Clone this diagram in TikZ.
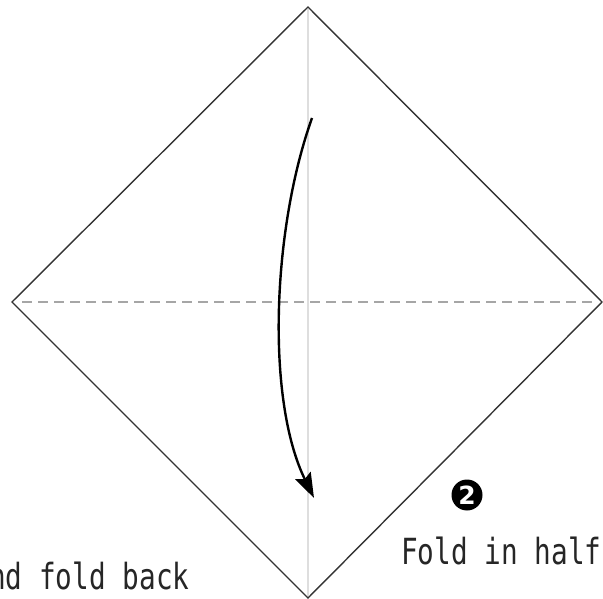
\documentclass[tikz,border=0pt]{standalone}
\usepackage{fontspec}
\usetikzlibrary{arrows.meta}
\newfontfamily\jmono[FakeStretch=0.77]{DejaVu Sans Mono}
\newfontfamily\numfont{DejaVu Sans}
\tikzset{
  edgeline/.style={draw=black!80, line width=1.4pt},
  creaseline/.style={draw=black!13, line width=1.5pt},
  valleyline/.style={draw=black!35, line width=2pt, dash pattern=on 10pt off 6pt},
  foldarrow/.style={draw=black, line width=2.4pt, -{Stealth[length=25pt,width=17pt,inset=4pt]}},
  lbl/.style={font=\jmono\fontsize{36}{40}\selectfont, text=black!85, inner sep=0pt, anchor=base west},
  stepnum/.style={circle, fill=black, inner sep=0pt, minimum size=31pt, text=white, font=\numfont\bfseries\fontsize{25}{25}\selectfont}
}
\begin{document}
\begin{tikzpicture}[x=1pt,y=-1pt]
\useasboundingbox (0,0) rectangle (603,599);
\coordinate (T) at (308,7);
\coordinate (L) at (12,302);
\coordinate (R) at (602,302);
\coordinate (B) at (308,598);
\coordinate (DL) at (22,302);
\coordinate (DR) at (596,302);
\coordinate (VT) at (308,9);
\coordinate (VB) at (308,599);
\draw[creaseline] (VT) -- (VB);
\draw[valleyline] (DL) -- (DR);
\draw[edgeline, line join=miter] (T) -- (R) -- (B) -- (L) -- cycle;
\coordinate (AS) at (312,118);
\coordinate (AE) at (314,498);
\draw[foldarrow] (AS) .. controls (272,230) and (266,400) .. (AE);
\node[stepnum] (num) at (467,495) {2};
\node[lbl] (t1) at (401,564) {Fold in half};
\node[lbl] (t2) at (-11,589) {nd fold back};
\end{tikzpicture}
\end{document}
